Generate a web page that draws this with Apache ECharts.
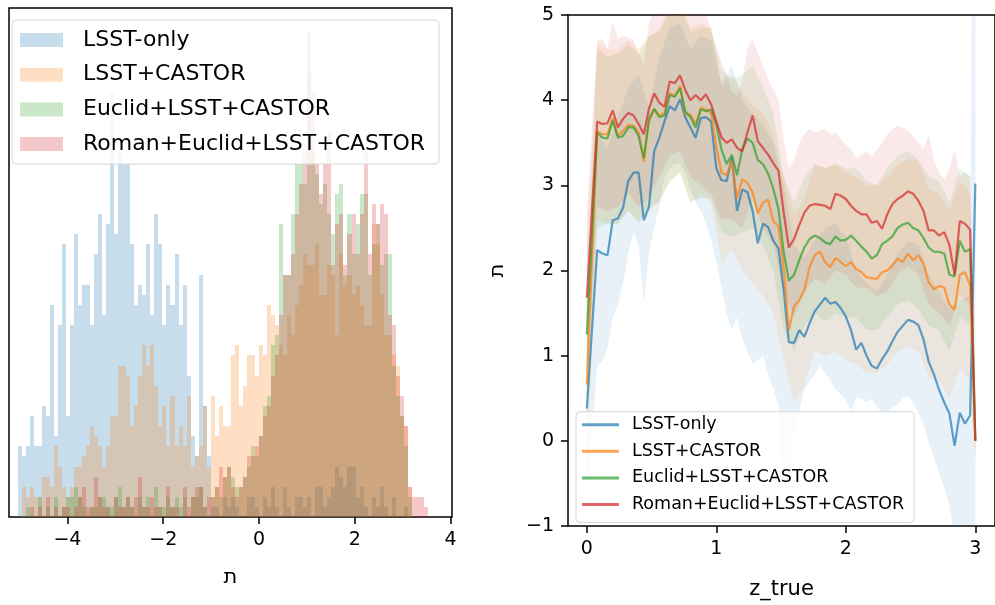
<!DOCTYPE html>
<html><head><meta charset="utf-8">
<script src="https://cdn.jsdelivr.net/npm/echarts@6/dist/echarts.min.js"></script>
<style>html,body{margin:0;padding:0;background:#fff}#c{width:995px;height:605px}</style>
</head><body><div id="c"></div>
<script>
// ---------------- data ----------------
const seriesNames = ['LSST-only', 'LSST+CASTOR', 'Euclid+LSST+CASTOR', 'Roman+Euclid+LSST+CASTOR'];

// histogram (left panel): common bins, counts per bin
const binStart = -5.04;
const binWidth = 0.084;
const histBlue = [7,6,7,10,7,7,11,10,21,8,19,27,10,19,28,21,23,23,19,26,30,20,29,42,28,36,
  35,35,27,21,23,22,27,20,30,27,19,23,21,26,19,23,14,8,6,24,11,6,
  1,1,0,2,1,
  2,1,0,0,2,2,1,0,2,1,3,1,0,3,1,0,2,2,1,2,0,3,3,1,2,3,5,
  4,3,5,5,2,3,1,0,2,1,3,1,0,2,0,
  0,1,0,0,0,0,0,0];
const histOrange = [0,3,2,3,2,2,4,4,3,7,5,3,2,3,5,5,6,7,9,8,7,5,7,10,10,15,
  15,14,9,11,14,17,15,17,13,9,11,7,12,7,9,7,12,5,6,7,11,5,12,8,11,9,9,
  16,17,11,13,16,16,14,17,16,21,20,
  19,17,16,20,18,21,23,26,25,25,27,22,22,25,24,18,26,23,24,22,23,21,19,19,29,27,22,18,18,16,15,10,9,3,0,0,0,0,0];
const histGreen = [0,0,1,0,0,2,0,1,0,2,0,1,2,2,3,2,1,0,1,1,2,2,1,1,2,3,1,2,1,0,2,1,2,0,3,1,1,2,1,2,1,2,0,2,2,3,1,0,
  2,3,2,4,5,4,3,3,4,5,7,6,8,11,12,17,
  18,29,24,24,30,35,35,33,44,36,34,31,33,30,28,32,
  33,24,30,26,29,32,32,24,27,29,25,26,26,15,12,10,7,2,0,0,0,0,0];
const histRed = [0,0,0,1,0,1,0,2,0,1,0,1,1,0,1,2,3,1,1,4,2,1,1,0,2,1,1,2,1,2,4,1,1,2,1,1,0,3,1,1,0,3,1,2,3,3,1,2,
  2,3,5,4,5,3,2,3,4,6,6,7,8,10,11,14,
  16,20,24,24,26,30,33,36,48,42,35,32,35,38,25,29,
  30,25,28,30,26,30,36,26,31,29,31,30,20,19,14,12,9,3,2,2,2,1,0];

// right panel: mean lines
const zLine = [0,0.08,0.12,0.16,0.20,0.24,0.28,0.32,0.36,0.40,0.44,0.48,0.52,0.56,0.60,0.64,0.68,0.72,0.76,0.80,0.84,0.88,0.92,0.96,
  1.00,1.04,1.08,1.12,1.16,1.20,1.24,1.28,1.32,1.36,1.40,1.44,1.48,1.52,1.56,1.60,1.64,1.68,1.72,1.76,1.80,1.84,1.88,1.92,1.96,
  2.00,2.04,2.08,2.12,2.16,2.20,2.24,2.28,2.32,2.36,2.40,2.44,2.48,2.52,2.56,2.60,2.64,2.68,2.72,2.76,2.80,2.84,2.88,2.92,2.96,3.00];
const lineBlue = [0.38,2.24,2.20,2.18,2.59,2.61,2.74,3.05,3.15,3.15,2.59,2.75,3.40,3.56,3.75,3.93,3.88,4.01,3.80,3.68,3.56,3.79,3.80,3.75,
  3.20,3.06,3.05,3.33,2.70,2.95,2.92,2.70,2.32,2.55,2.51,2.35,2.26,1.77,1.16,1.15,1.30,1.22,1.38,1.52,1.60,1.68,1.61,1.63,1.56,
  1.46,1.30,1.07,1.15,1.00,0.88,0.85,0.96,1.05,1.17,1.28,1.35,1.42,1.40,1.36,1.19,0.93,0.78,0.60,0.45,0.32,-0.06,0.33,0.20,0.30,3.02];
const lineOrange = [0.66,3.64,3.60,3.60,3.79,3.58,3.64,3.71,3.70,3.62,3.28,3.75,3.89,3.82,3.85,4.08,4.05,4.17,3.84,3.83,3.72,3.91,3.89,3.85,
  3.45,3.15,3.12,3.29,2.85,3.07,3.03,2.92,2.67,2.80,2.83,2.58,2.52,2.04,1.30,1.58,1.65,1.77,2.04,2.18,2.22,2.10,2.04,2.15,2.10,
  2.05,2.10,2.02,1.98,1.92,1.91,1.90,1.98,2.00,2.06,2.14,2.10,2.20,2.12,2.18,2.08,1.86,1.78,1.82,1.80,1.60,1.54,1.95,1.98,1.82,0.0];
const lineGreen = [1.25,3.62,3.56,3.55,3.76,3.56,3.58,3.68,3.68,3.58,3.32,3.78,3.90,3.80,3.82,4.06,4.04,4.14,3.87,3.80,3.68,3.89,3.87,3.89,
  3.71,3.42,3.25,3.36,3.12,3.42,3.55,3.50,3.30,3.25,3.14,2.96,2.72,2.22,1.88,1.95,2.12,2.27,2.37,2.41,2.38,2.33,2.31,2.40,2.35,
  2.36,2.41,2.35,2.28,2.22,2.14,2.18,2.31,2.35,2.40,2.50,2.54,2.56,2.50,2.47,2.38,2.27,2.22,2.22,2.20,1.95,1.93,2.35,2.22,2.25,0.0];
const lineRed = [1.68,3.75,3.72,3.73,3.88,3.68,3.78,3.85,3.82,3.72,3.60,3.90,4.08,3.97,3.92,4.22,4.20,4.29,4.12,4.00,4.06,4.00,4.07,3.95,
  3.75,3.56,3.50,3.54,3.44,3.40,3.62,3.82,3.52,3.44,3.36,3.26,3.17,2.68,2.27,2.37,2.53,2.68,2.76,2.78,2.77,2.76,2.72,2.90,2.88,
  2.84,2.76,2.70,2.66,2.66,2.56,2.58,2.49,2.66,2.78,2.84,2.88,2.93,2.90,2.82,2.70,2.47,2.47,2.41,2.45,2.30,1.95,2.58,2.55,2.48,0.0];

// right panel: spread bands
const zBand = [0,0.08,0.16,0.24,0.32,0.40,0.48,0.56,0.64,0.72,0.80,0.88,0.96,1.04,1.12,1.20,1.28,1.36,1.44,1.52,
  1.60,1.68,1.76,1.84,1.92,2.00,2.08,2.16,2.24,2.32,2.40,2.48,2.56,2.64,2.72,2.80,2.88,2.96,3.00];
const bandBlueUpper = [1.5,3.6,3.45,3.8,4.15,4.3,3.9,4.5,4.85,4.9,4.6,4.75,4.7,4.2,4.4,4.0,3.85,3.7,3.5,3.0,
  2.3,2.15,2.35,2.5,2.55,2.4,2.0,1.85,1.75,1.95,2.2,2.35,2.3,1.95,1.75,1.55,1.65,1.7,12];
const bandBlueLower = [-0.8,0.88,0.93,1.10,1.45,1.60,1.85,2.20,2.45,2.30,1.60,2.20,2.50,2.75,3.10,3.20,3.25,3.25,3.15,2.95,2.80,2.70,2.55,2.35,
  2.10,1.80,1.50,1.30,1.45,1.20,1.05,0.90,0.95,1.00,0.78,0.62,0.42,-0.50,-0.60,0.10,0.35,0.60,0.70,0.78,0.88,0.80,0.72,0.60,0.55,
  0.48,0.35,0.50,0.50,0.45,0.49,0.40,0.33,0.30,0.40,0.42,0.50,0.53,0.45,0.33,0.20,-0.02,-0.20,-0.37,-0.55,-0.76,-1.10,-1.20,-1.30,-1.20,-8];
const bandOrangeUpper = [1.6,4.65,4.6,4.6,4.7,4.6,4.75,4.85,5.1,5.15,4.85,4.9,4.85,4.15,4.3,4.1,3.95,3.85,3.6,3.1,
  2.65,2.85,3.25,3.2,3.25,3.15,3.1,3.0,3.0,3.1,3.25,3.3,3.3,2.95,2.9,2.7,3.05,2.9,0.3];
const bandOrangeLower = [-0.3,2.6,2.55,2.55,2.7,2.6,2.7,2.8,3.05,3.15,2.8,2.9,2.8,2.1,2.25,2.0,1.85,1.7,1.5,0.95,
  0.45,0.65,1.05,1.0,1.05,0.95,0.9,0.8,0.8,0.9,1.05,1.1,1.05,0.75,0.7,0.5,0.85,0.7,-0.3];
const bandGreenUpper = [2.2,4.6,4.5,4.55,4.65,4.55,4.75,4.8,5.05,5.1,4.8,4.85,4.85,4.35,4.25,4.3,4.4,4.15,3.85,3.1,
  2.8,3.1,3.25,3.2,3.25,3.2,3.2,3.05,3.0,3.2,3.35,3.4,3.3,3.1,3.05,2.8,3.2,3.1,0.2];
const bandGreenLower = [0.3,2.5,2.55,2.55,2.7,2.55,2.75,2.8,3.05,3.15,2.8,2.85,2.85,2.45,2.4,2.45,2.5,2.3,2.0,1.3,
  1.05,1.35,1.5,1.4,1.5,1.45,1.45,1.3,1.3,1.45,1.6,1.65,1.55,1.35,1.3,1.05,1.45,1.35,-0.2];
const bandRedUpper = [2.7,4.70,4.72,4.60,4.93,4.72,4.75,4.74,4.70,4.55,4.42,4.90,5.05,5.10,5.05,5.20,5.25,5.30,5.10,5.05,5.08,5.00,5.02,4.80,
  4.62,4.45,4.30,4.10,4.05,4.22,4.60,4.72,4.55,4.40,4.25,4.12,4.00,3.54,3.20,3.30,3.50,3.60,3.66,3.62,3.64,3.66,3.60,3.62,3.54,
  3.48,3.42,3.32,3.36,3.40,3.34,3.42,3.50,3.60,3.66,3.70,3.68,3.64,3.58,3.50,3.42,3.60,3.30,3.15,3.07,3.20,3.42,3.10,3.15,3.11,0.3];
const bandRedLower = [0.7,2.75,2.7,2.75,2.9,2.75,2.85,3.1,3.35,3.4,3.1,3.0,2.9,2.6,2.6,2.5,2.85,2.5,2.3,1.75,
  1.45,1.75,1.9,1.85,2.0,1.95,1.8,1.8,1.7,1.75,1.95,2.05,1.95,1.6,1.5,1.35,1.7,1.6,-0.2];

const leftXTicks = [-4, -2, 0, 2, 4];
const rightXTicks = [0, 1, 2, 3];

// ---------------- styling ----------------
const FONT = 'DejaVu Sans';
const COLORS = [[31,119,180],[255,127,14],[44,160,44],[214,39,40]];
const rgba = (c, a) => `rgba(${c[0]},${c[1]},${c[2]},${a})`;
const minus = v => String(v).replace('-', '\u2212');

function histSeries(idx, counts) {
  const data = [];
  counts.forEach((c, i) => { if (c > 0) data.push([binStart + i * binWidth, binStart + (i + 1) * binWidth, c]); });
  const fill = rgba(COLORS[idx], 0.25);
  return {
    type: 'custom', name: seriesNames[idx], xAxisIndex: 0, yAxisIndex: 0, clip: true,
    data: data, encode: { x: [0, 1], y: 2 }, itemStyle: { color: fill }, silent: true,
    renderItem: (params, api) => {
      const p0 = api.coord([api.value(0), api.value(2)]);
      const p1 = api.coord([api.value(1), 0]);
      const x0 = Math.round(p0[0]), x1 = Math.round(p1[0]);
      const y0 = Math.round(p0[1]), y1 = Math.round(p1[1]);
      return { type: 'rect', shape: { x: x0, y: y0, width: x1 - x0, height: y1 - y0 }, style: { fill: fill } };
    }
  };
}

function bandSeries(idx, zu, vu, zl, vl) {
  const fill = rgba(COLORS[idx], 0.1);
  return {
    type: 'custom', name: seriesNames[idx], xAxisIndex: 1, yAxisIndex: 1, clip: true, silent: true,
    data: [[zLine[1], lineBlue[1]]], itemStyle: { color: fill },
    renderItem: (params, api) => {
      const pts = [];
      for (let i = 0; i < zu.length; i++) pts.push(api.coord([zu[i], vu[i]]));
      for (let i = zl.length - 1; i >= 0; i--) pts.push(api.coord([zl[i], vl[i]]));
      return { type: 'polygon', shape: { points: pts }, style: { fill: fill } };
    }
  };
}

function lineSeries(idx, vals) {
  return {
    type: 'line', name: seriesNames[idx], xAxisIndex: 1, yAxisIndex: 1, clip: true,
    data: zLine.map((z, i) => [z, vals[i]]), showSymbol: false, symbol: 'none',
    lineStyle: { width: 2.2, color: rgba(COLORS[idx], 0.7) }, itemStyle: { color: rgba(COLORS[idx], 0.7) },
    silent: true, z: 3
  };
}

const tickStyle = { show: true, inside: false, length: 7, lineStyle: { color: '#000', width: 1.5 } };
const labelStyle = { color: '#000', fontSize: 19, fontFamily: FONT, margin: 14 };
const noLine = { show: false, onZero: false };

const option = {
  animation: false,
  backgroundColor: '#fff',
  grid: [
    { left: 9, top: 8, width: 443, height: 509, show: true, borderColor: '#000', borderWidth: 1.5, backgroundColor: 'transparent' },
    { left: 568, top: 15, width: 431, height: 514, show: true, borderColor: '#000', borderWidth: 1.5, backgroundColor: 'transparent' }
  ],
  xAxis: [
    { type: 'value', gridIndex: 0, min: -5.22, max: 4.03,
      axisLine: noLine, splitLine: { show: false },
      axisTick: Object.assign({}, tickStyle, { customValues: leftXTicks }),
      axisLabel: Object.assign({}, labelStyle, { customValues: leftXTicks, formatter: minus }),
      name: '\u05EA', nameLocation: 'middle', nameGap: 50,
      nameTextStyle: { color: '#000', fontSize: 21, fontFamily: FONT } },
    { type: 'value', gridIndex: 1, min: -0.1454, max: 3.152,
      axisLine: noLine, splitLine: { show: false },
      axisTick: Object.assign({}, tickStyle, { customValues: rightXTicks }),
      axisLabel: Object.assign({}, labelStyle, { customValues: rightXTicks, formatter: minus }),
      name: 'z_true', nameLocation: 'middle', nameGap: 53,
      nameTextStyle: { color: '#000', fontSize: 21, fontFamily: FONT } }
  ],
  yAxis: [
    { type: 'value', gridIndex: 0, min: 0, max: 50.4, show: false, axisLine: noLine, splitLine: { show: false } },
    { type: 'value', gridIndex: 1, min: -1, max: 5, interval: 1,
      axisLine: noLine, splitLine: { show: false },
      axisTick: tickStyle,
      axisLabel: Object.assign({}, labelStyle, { formatter: minus }),
      name: '\u05EA', nameLocation: 'middle', nameGap: 60, nameRotate: 90,
      nameTextStyle: { color: '#000', fontSize: 21, fontFamily: FONT } }
  ],
  legend: [
    { orient: 'vertical', left: 12, top: 20, itemWidth: 43, itemHeight: 14, itemGap: 12.7,
      padding: [9, 14, 9, 8], backgroundColor: 'rgba(255,255,255,0.8)', borderColor: '#d6d6d6',
      borderWidth: 1, borderRadius: 4, selectedMode: false,
      textStyle: { color: '#000', fontSize: 22, fontFamily: FONT, lineHeight: 22, padding: [0, 0, 0, 15] },
      data: seriesNames.map((n, i) => ({ name: n, icon: 'rect', itemStyle: { color: rgba(COLORS[i], 0.25), borderWidth: 0 } })) },
    { orient: 'vertical', left: 576, top: 411.7, itemWidth: 37, itemHeight: 3, itemGap: 8.6,
      padding: [4, 10, 9, 6], backgroundColor: 'rgba(255,255,255,0.8)', borderColor: '#d6d6d6',
      borderWidth: 1, borderRadius: 4, selectedMode: false,
      textStyle: { color: '#000', fontSize: 17.5, fontFamily: FONT, lineHeight: 17.5, padding: [0, 0, 0, 8] },
      data: seriesNames.map((n, i) => ({ name: n, icon: 'rect', itemStyle: { color: rgba(COLORS[i], 0.7), borderWidth: 0 } })) }
  ],
  series: [
    histSeries(0, histBlue), histSeries(1, histOrange), histSeries(2, histGreen), histSeries(3, histRed),
    bandSeries(0, zBand, bandBlueUpper, zLine, bandBlueLower),
    bandSeries(1, zBand, bandOrangeUpper, zBand, bandOrangeLower),
    bandSeries(2, zBand, bandGreenUpper, zBand, bandGreenLower),
    bandSeries(3, zLine, bandRedUpper, zBand, bandRedLower),
    lineSeries(0, lineBlue), lineSeries(1, lineOrange), lineSeries(2, lineGreen), lineSeries(3, lineRed)
  ]
};

const chart = echarts.init(document.getElementById('c'), null, { renderer: 'canvas', width: 995, height: 605 });
chart.setOption(option);
</script>
</body></html>
